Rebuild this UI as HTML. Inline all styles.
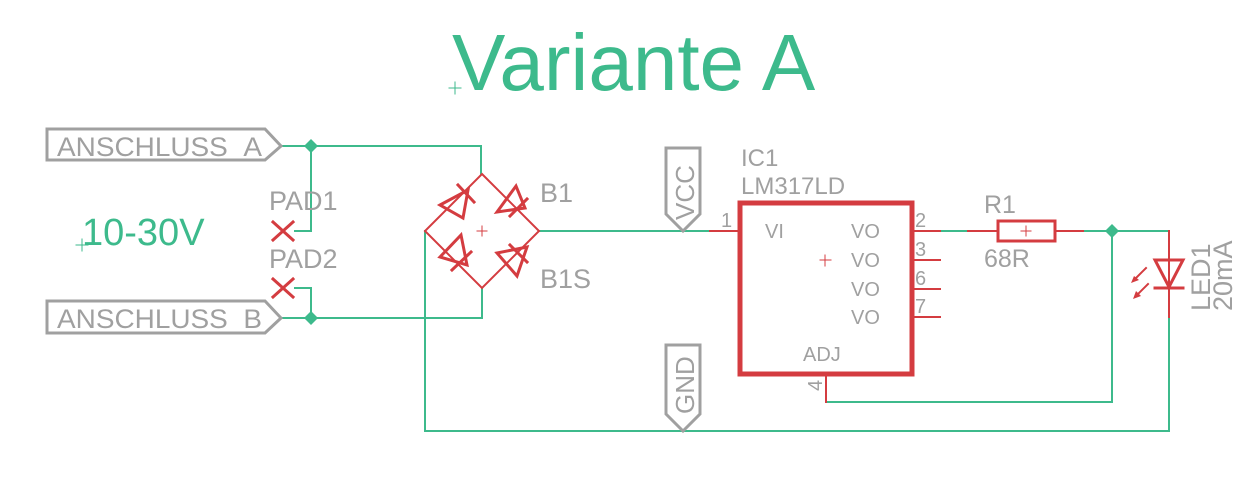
<!DOCTYPE html>
<html><head><meta charset="utf-8"><style>
html,body{margin:0;padding:0;background:#fff;}
svg text{font-family:"Liberation Sans",sans-serif;}
</style></head><body>
<svg width="1256" height="489" viewBox="0 0 1256 489" xmlns="http://www.w3.org/2000/svg">
<g fill="none" stroke-linecap="square">
<g stroke="#3dba8c" stroke-width="2">
<path d="M282 146 H481 V174"/>
<path d="M311 146 V231 H295"/>
<path d="M282 318 H482 V288"/>
<path d="M311 318 V288 H295"/>
<path d="M425 231 V431 H1169 V317"/>
<path d="M539 231 H710"/>
<path d="M940 231 H968"/>
<path d="M1083 231 H1169"/>
<path d="M1112 231 V402 H826"/>
</g>
<g stroke="#d43c40" stroke-width="3">
<path d="M482 174 L539 231 L482 288 L425 231 Z" stroke-width="2"/>
<path d="M440 205 L468 190 L463 218 Z"/>
<path d="M458 185 L474 202"/>
<path d="M497 212 L525 208 L516 186 Z"/>
<path d="M510 216 L527 199"/>
<path d="M440 257 L461 235 L467 265 Z"/>
<path d="M452 270 L471 252"/>
<path d="M497 253 L517 276 L527 247 Z"/>
<path d="M510 245 L527 262"/>
<path d="M710 231 H740 M912 231 H940 M912 260 H940 M912 289 H940 M912 317 H940 M968 231 H998 M1055 231 H1083 M826 374 V402" stroke-width="2"/>
<rect x="740" y="203" width="172" height="171" stroke-width="5"/>
<rect x="998" y="221" width="57" height="20" stroke-width="3"/>
<path d="M1169 231 V317" stroke-width="2"/>
<path d="M1155 260 H1183 L1169 287 Z"/>
<path d="M1155 288 H1183"/>
<path d="M1146 268 L1134 280 M1148 284 L1136 296" stroke-width="2"/>
<path d="M273 222 L293 240 M293 222 L273 240 M273 279 L293 297 M293 279 L273 297"/>
</g>
<g fill="#d43c40" stroke="none">
<path d="M1131 283 L1139 280 L1134 276 Z"/>
<path d="M1133 299 L1141 296 L1136 291 Z"/>
</g>
<g stroke="#d43c40" stroke-width="1">
<path d="M477 231 H487 M482 226 V236"/>
<path d="M820 260 H831 M825 255 V266"/>
<path d="M1021 231 H1031 M1026 226 V236"/>
</g>
<g stroke="#3dba8c" stroke-width="1">
<path d="M449 88 H461 M455 82 V94"/>
<path d="M76 245 H88 M82 239 V251"/>
</g>
<g fill="#3dba8c" stroke="none">
<path d="M311 139 L318 146 L311 153 L304 146 Z"/>
<path d="M311 311 L318 318 L311 325 L304 318 Z"/>
<path d="M1112 224 L1119 231 L1112 238 L1105 231 Z"/>
</g>
<g stroke="#a0a0a0" stroke-width="3">
<path d="M47 129 H265 L281 146 L265 160 H47 Z"/>
<path d="M47 301 H265 L281 318 L265 333 H47 Z"/>
<path d="M666 148 H700 V214 L683 231 L666 214 Z"/>
<path d="M666 345 H700 V414 L683 431 L666 414 Z"/>
</g>
</g>
<g fill="#a0a0a0" font-size="27">
<text x="57" y="156" textLength="205" lengthAdjust="spacingAndGlyphs">ANSCHLUSS_A</text>
<text x="57" y="328" textLength="205" lengthAdjust="spacingAndGlyphs">ANSCHLUSS_B</text>
<text x="269" y="210">PAD1</text>
<text x="269" y="268">PAD2</text>
<text x="540" y="202">B1</text>
<text x="540" y="288">B1S</text>
<text x="741" y="166" font-size="24">IC1</text>
<text x="741" y="194" font-size="24">LM317LD</text>
<text x="984" y="213" font-size="25">R1</text>
<text x="984" y="267" font-size="25">68R</text>
<text transform="translate(694,220) rotate(-90)" font-size="26">VCC</text>
<text transform="translate(694,414) rotate(-90)" font-size="26">GND</text>
<text transform="translate(1210,311) rotate(-90)" font-size="27">LED1</text>
<text transform="translate(1232,311) rotate(-90)" font-size="27">20mA</text>
<g font-size="20">
<text x="765" y="238">VI</text>
<text x="851" y="238">VO</text>
<text x="851" y="267">VO</text>
<text x="851" y="296">VO</text>
<text x="851" y="324">VO</text>
<text x="803" y="361">ADJ</text>
<text x="721" y="227">1</text>
<text x="915" y="227">2</text>
<text x="915" y="256">3</text>
<text x="915" y="285">6</text>
<text x="915" y="313">7</text>
<text transform="translate(822,391) rotate(-90)">4</text>
</g>
</g>
<g fill="#3dba8c">
<text x="452" y="90" font-size="80">Variante A</text>
<text x="82" y="245" font-size="38">10-30V</text>
</g>
</svg>
</body></html>
